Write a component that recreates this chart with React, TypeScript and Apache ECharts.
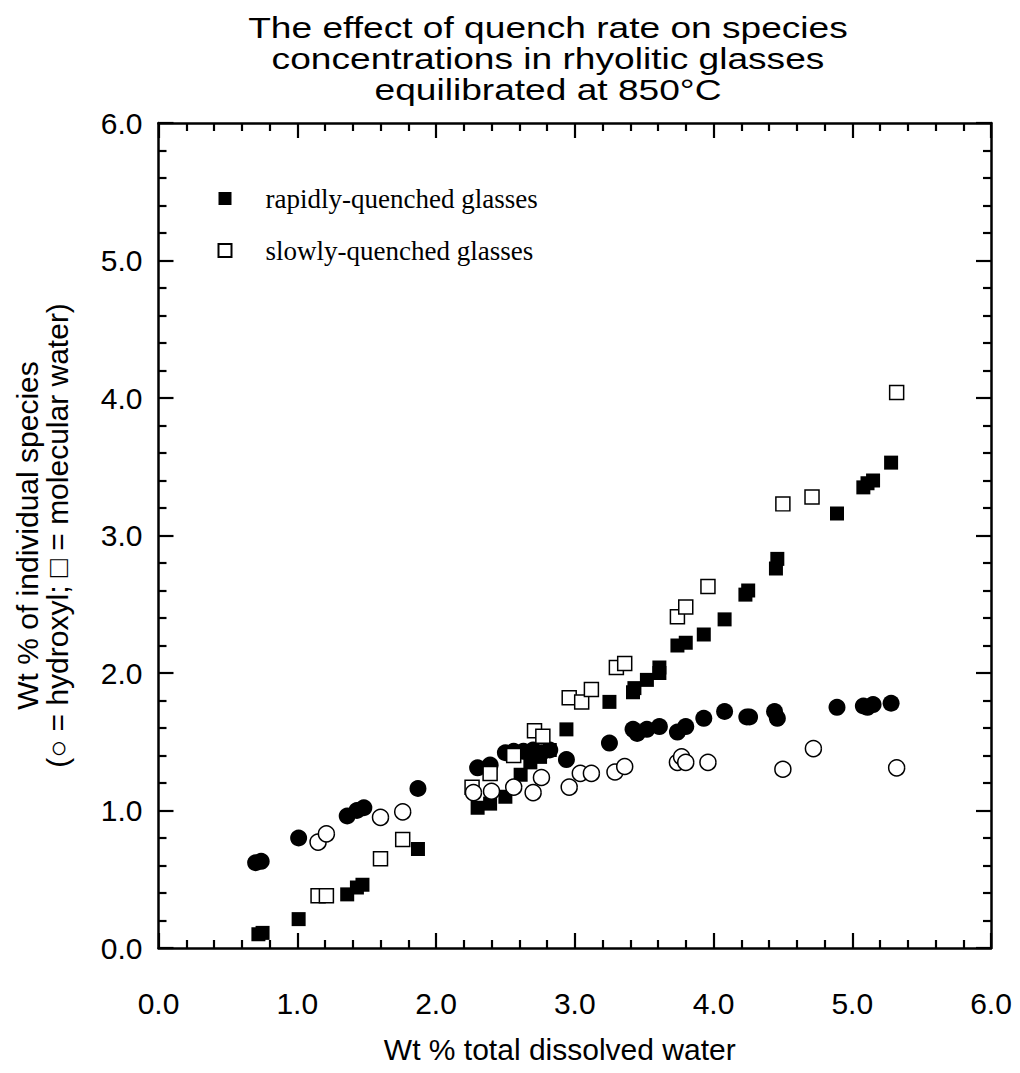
import React, { useEffect, useRef } from "react";
import * as echarts from "echarts";

// Data: [Wt % total water, Wt % species]
const rapidHydroxyl: number[][] = [
  [0.70, 0.62], [0.74, 0.63], [1.01, 0.80], [1.36, 0.96], [1.43, 1.00], [1.48, 1.02],
  [1.87, 1.16], [2.30, 1.31], [2.39, 1.33], [2.50, 1.42], [2.56, 1.43], [2.63, 1.43],
  [2.70, 1.44], [2.76, 1.42], [2.82, 1.44], [2.94, 1.37], [3.25, 1.49], [3.42, 1.59],
  [3.45, 1.56], [3.52, 1.59], [3.61, 1.61], [3.74, 1.57], [3.80, 1.61], [3.93, 1.67],
  [4.08, 1.72], [4.24, 1.68], [4.26, 1.68], [4.44, 1.72], [4.46, 1.67], [4.89, 1.75],
  [5.08, 1.76], [5.11, 1.75], [5.15, 1.77], [5.28, 1.78],
];

const rapidMolecular: number[][] = [
  [0.72, 0.10], [0.75, 0.11], [1.01, 0.21], [1.36, 0.39], [1.43, 0.44], [1.47, 0.46],
  [1.87, 0.72], [2.30, 1.02], [2.39, 1.05], [2.50, 1.10], [2.61, 1.26], [2.68, 1.35],
  [2.75, 1.39], [2.82, 1.44], [2.94, 1.59], [3.25, 1.79], [3.42, 1.86], [3.43, 1.89],
  [3.52, 1.95], [3.61, 2.00], [3.61, 2.04], [3.74, 2.20], [3.80, 2.22], [3.93, 2.28],
  [4.08, 2.39], [4.23, 2.57], [4.25, 2.60], [4.45, 2.76], [4.46, 2.83], [4.89, 3.16],
  [5.08, 3.35], [5.11, 3.38], [5.15, 3.40], [5.28, 3.53],
];

const slowMolecular: number[][] = [
  [1.15, 0.38], [1.21, 0.38], [1.60, 0.65], [1.76, 0.79], [2.26, 1.17], [2.39, 1.27],
  [2.56, 1.40], [2.71, 1.58], [2.77, 1.54], [2.96, 1.82], [3.05, 1.79], [3.12, 1.88],
  [3.30, 2.04], [3.36, 2.07], [3.74, 2.41], [3.80, 2.48], [3.96, 2.63], [4.50, 3.23],
  [4.71, 3.28], [5.32, 4.04],
];

const slowHydroxyl: number[][] = [
  [1.15, 0.77], [1.21, 0.83], [1.60, 0.95], [1.76, 0.99], [2.27, 1.13], [2.40, 1.14],
  [2.56, 1.17], [2.70, 1.13], [2.76, 1.24], [2.96, 1.17], [3.04, 1.27], [3.12, 1.27],
  [3.29, 1.28], [3.36, 1.32], [3.74, 1.35], [3.77, 1.39], [3.80, 1.35], [3.96, 1.35],
  [4.50, 1.30], [4.72, 1.45], [5.32, 1.31],
];

const titleLines: string[] = [
  "The effect of quench rate on species",
  "concentrations in rhyolitic glasses",
  "equilibrated at 850°C",
];
const xAxisName = "Wt % total dissolved water";
const yAxisNameLines: string[] = [
  "Wt % of individual species",
  "(○ = hydroxyl; □ = molecular water)",
];
const legendNames: string[] = ["rapidly-quenched glasses", "slowly-quenched glasses"];

const SANS = "'Liberation Sans', Arial, Helvetica, sans-serif";
const SERIF = "'Liberation Serif', 'Times New Roman', serif";

function axisCommon(showLabel: boolean) {
  return {
    type: "value" as const,
    min: 0,
    max: 6,
    interval: 1,
    axisLine: { show: true, onZero: false, lineStyle: { color: "#000", width: 2.5 } },
    axisTick: { show: true, inside: true, length: 15, lineStyle: { color: "#000", width: 2.2 } },
    minorTick: { show: true, splitNumber: 5, length: 8, lineStyle: { color: "#000", width: 2.2 } },
    splitLine: { show: false },
    minorSplitLine: { show: false },
    axisLabel: {
      show: showLabel,
      color: "#000",
      fontFamily: SANS,
      fontSize: 30,
      formatter: (v: number) => v.toFixed(1),
    },
  };
}

export default function App() {
  const ref = useRef<HTMLDivElement>(null);

  useEffect(() => {
    if (!ref.current) return;
    const chart = echarts.init(ref.current, undefined, { renderer: "svg" });

    const titleGraphics = titleLines.map((line, i) => ({
      type: "text",
      x: 548,
      y: 28 + i * 31,
      scaleX: 1.28,
      style: {
        text: line,
        fontFamily: SANS,
        fontSize: 29,
        fill: "#000",
        textAlign: "center",
        textVerticalAlign: "middle",
      },
    }));

    const option: any = {
      animation: false,
      backgroundColor: "#fff",
      graphic: titleGraphics,
      legend: {
        data: [
          { name: legendNames[0], icon: "rect" },
          { name: legendNames[1], icon: "rect" },
        ],
        orient: "vertical",
        left: 217.5,
        top: 185,
        padding: 0,
        itemWidth: 13,
        itemHeight: 13,
        itemGap: 25,
        selectedMode: false,
        textStyle: {
          fontFamily: SERIF,
          fontSize: 27,
          color: "#000",
          padding: [0, 0, 0, 29],
        },
      },
      grid: { left: 158.5, right: 29, top: 123, bottom: 125 },
      xAxis: [
        {
          ...axisCommon(true),
          position: "bottom",
          axisLabel: { ...axisCommon(true).axisLabel, margin: 40 },
          name: xAxisName,
          nameLocation: "middle",
          nameGap: 86,
          nameTextStyle: {
            fontFamily: SANS,
            fontSize: 30,
            color: "#000",
            padding: [0, 30, 0, 0],
          },
        },
        { ...axisCommon(false), position: "top" },
      ],
      yAxis: [
        {
          ...axisCommon(true),
          position: "left",
          axisLabel: { ...axisCommon(true).axisLabel, margin: 16 },
          name: yAxisNameLines.join("\n"),
          nameLocation: "middle",
          nameRotate: 90,
          nameGap: 86,
          nameTextStyle: { fontFamily: SANS, fontSize: 30, color: "#000", lineHeight: 30 },
        },
        { ...axisCommon(false), position: "right" },
      ],
      series: [
        {
          name: "rapid hydroxyl",
          type: "scatter",
          data: rapidHydroxyl,
          symbol: "circle",
          symbolSize: 17,
          itemStyle: { color: "#000", opacity: 1 },
        },
        {
          name: legendNames[0],
          type: "scatter",
          data: rapidMolecular,
          symbol: "rect",
          symbolSize: 14,
          itemStyle: { color: "#000", opacity: 1 },
        },
        {
          name: legendNames[1],
          type: "scatter",
          data: slowMolecular,
          symbol: "rect",
          symbolSize: 14,
          itemStyle: { color: "#fff", borderColor: "#000", borderWidth: 1.5, opacity: 1 },
        },
        {
          name: "slow hydroxyl",
          type: "scatter",
          data: slowHydroxyl,
          symbol: "circle",
          symbolSize: 16,
          itemStyle: { color: "#fff", borderColor: "#000", borderWidth: 1.5, opacity: 1 },
        },
      ],
    };

    chart.setOption(option);
    return () => chart.dispose();
  }, []);

  return <div ref={ref} style={{ width: 1020, height: 1073, margin: -8 }} />;
}
